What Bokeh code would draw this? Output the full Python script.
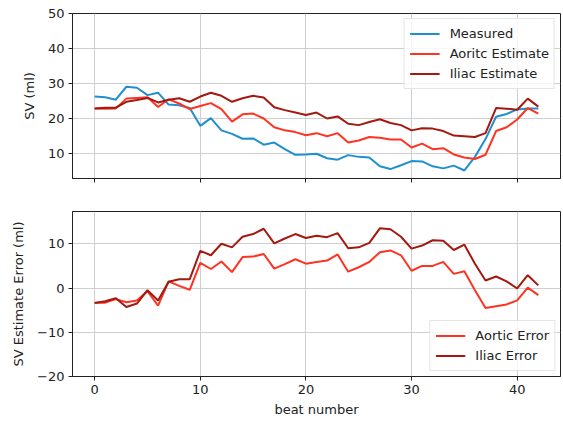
from bokeh.plotting import figure
from bokeh.layouts import column
from bokeh.models import Range1d, FixedTicker, Legend, LegendItem
from bokeh.embed import file_html
from bokeh.resources import INLINE

beats = list(range(43))
measured = [26.2, 26.0, 25.3, 29.0, 28.7, 26.6, 27.3, 23.9, 23.7, 22.9,
            17.8, 20.0, 16.5, 15.5, 14.1, 14.2, 12.4, 13.0, 11.1, 9.5,
            9.6, 9.8, 8.5, 8.1, 9.4, 8.9, 8.7, 6.2, 5.4, 6.5,
            7.7, 7.6, 6.2, 5.6, 6.4, 5.0, 8.9, 14.0, 20.4, 21.2,
            22.5, 22.8, 22.8]
aortic_est = [22.8, 22.7, 22.8, 25.6, 25.8, 26.0, 23.2, 25.4, 24.2, 22.6,
              23.5, 24.3, 22.6, 19.0, 21.1, 21.3, 19.9, 17.4, 16.5, 16.0,
              15.1, 15.7, 14.8, 15.7, 13.0, 13.6, 14.6, 14.4, 13.9, 13.9,
              11.6, 12.7, 11.1, 11.4, 9.6, 8.7, 8.3, 9.5, 16.3, 17.4,
              19.6, 22.9, 21.3]
iliac_est = [22.8, 23.0, 23.0, 24.7, 25.2, 25.8, 24.5, 25.3, 25.7, 24.7,
             26.2, 27.3, 26.4, 24.7, 25.7, 26.4, 25.9, 23.1, 22.3, 21.6,
             20.9, 21.6, 19.9, 20.5, 18.4, 18.0, 18.9, 19.7, 18.6, 18.0,
             16.5, 17.1, 17.0, 16.3, 15.0, 14.8, 14.6, 15.7, 22.9, 22.7,
             22.4, 25.6, 23.3]
aortic_err = [-3.3, -3.3, -2.5, -3.2, -2.8, -0.7, -4.0, 1.5, 0.5, -0.4,
              5.7, 4.3, 6.0, 3.6, 7.0, 7.1, 7.7, 4.4, 5.4, 6.5,
              5.5, 5.9, 6.2, 7.6, 3.7, 4.7, 5.9, 8.1, 8.5, 7.4,
              3.9, 5.0, 5.0, 5.9, 3.2, 3.8, -0.5, -4.5, -4.1, -3.7,
              -2.8, 0.1, -1.6]
iliac_err = [-3.4, -3.0, -2.3, -4.3, -3.5, -0.5, -2.8, 1.4, 2.0, 2.0,
             8.4, 7.4, 10.0, 9.2, 11.6, 12.2, 13.4, 10.1, 11.2, 12.2,
             11.3, 11.8, 11.5, 12.4, 9.0, 9.2, 10.2, 13.5, 13.3, 11.6,
             8.9, 9.6, 10.8, 10.7, 8.6, 9.8, 5.5, 1.7, 2.6, 1.5,
             -0.1, 2.9, 0.6]

x_ticks = [0, 10, 20, 30, 40]
top_y_ticks = [10, 20, 30, 40, 50]
bot_y_ticks = [-20, -10, 0, 10]

BLUE = "#1f8fcd"
RED = "#ff3322"
DARK = "#a3190f"
FONT = "DejaVu Sans"
FS = "13px"
GRID = "#cfcfcf"


def style(p, yticks):
    p.outline_line_color = "#222222"
    p.outline_line_width = 1
    p.xgrid.ticker = FixedTicker(ticks=x_ticks)
    p.ygrid.ticker = FixedTicker(ticks=yticks)
    for g in (p.xgrid, p.ygrid):
        g.grid_line_color = GRID
        g.grid_line_width = 1
    for ax in (p.xaxis, p.yaxis):
        ax.axis_line_color = "#222222"
        ax.major_tick_line_color = "#222222"
        ax.major_tick_out = 4
        ax.major_tick_in = 0
        ax.minor_tick_line_color = None
        ax.major_label_text_font = FONT
        ax.major_label_text_font_size = FS
        ax.major_label_text_color = "#222222"
        ax.axis_label_text_font = FONT
        ax.axis_label_text_font_size = FS
        ax.axis_label_text_font_style = "normal"
        ax.axis_label_text_color = "#222222"
    p.xaxis.ticker = FixedTicker(ticks=x_ticks)
    p.yaxis.ticker = FixedTicker(ticks=yticks)
    p.yaxis.major_label_standoff = 4
    p.yaxis.axis_label_standoff = 8


def make_legend(p, items, loc):
    lg = Legend(items=items, location=loc)
    lg.label_text_font = FONT
    lg.label_text_font_size = FS
    lg.label_text_color = "#222222"
    lg.glyph_width = 30
    lg.glyph_height = 19
    lg.label_height = 19
    lg.label_standoff = 10
    lg.padding = 5
    lg.spacing = 1
    lg.margin = 5
    lg.border_line_color = "#cccccc"
    lg.border_line_width = 1
    lg.background_fill_color = "white"
    lg.background_fill_alpha = 0.8
    p.add_layout(lg)


top = figure(frame_width=488, frame_height=165, output_backend="svg",
             toolbar_location=None, x_range=Range1d(-2.1, 44.1),
             y_range=Range1d(2.7, 50), min_border_left=72,
             min_border_right=3, min_border_top=13, min_border_bottom=16)
top.background_fill_color = "white"
style(top, top_y_ticks)
top.yaxis.axis_label = "SV (ml)"
top.xaxis.major_label_overrides = {t: "" for t in x_ticks}
top.xaxis.major_label_standoff = 0
r1 = top.line(beats, measured, line_color=BLUE, line_width=2)
r2 = top.line(beats, aortic_est, line_color=RED, line_width=2)
r3 = top.line(beats, iliac_est, line_color=DARK, line_width=2)
make_legend(top, [LegendItem(label="Measured", renderers=[r1]),
                  LegendItem(label="Aoritc Estimate", renderers=[r2]),
                  LegendItem(label="Iliac Estimate", renderers=[r3])],
            "top_right")

bot = figure(frame_width=488, frame_height=165, output_backend="svg",
             toolbar_location=None, x_range=Range1d(-2.1, 44.1),
             y_range=Range1d(-20, 17.3), min_border_left=72,
             min_border_right=3, min_border_top=17, min_border_bottom=2)
style(bot, bot_y_ticks)
bot.yaxis.axis_label = "SV Estimate Error (ml)"
bot.xaxis.axis_label = "beat number"
bot.xaxis.major_label_standoff = 4
bot.xaxis.axis_label_standoff = 5
r4 = bot.line(beats, aortic_err, line_color=RED, line_width=2)
r5 = bot.line(beats, iliac_err, line_color=DARK, line_width=2)
make_legend(bot, [LegendItem(label="Aortic Error", renderers=[r4]),
                  LegendItem(label="Iliac Error", renderers=[r5])],
            "bottom_right")

layout = column(top, bot, spacing=0)
open("out.html", "w").write(file_html(layout, INLINE))
